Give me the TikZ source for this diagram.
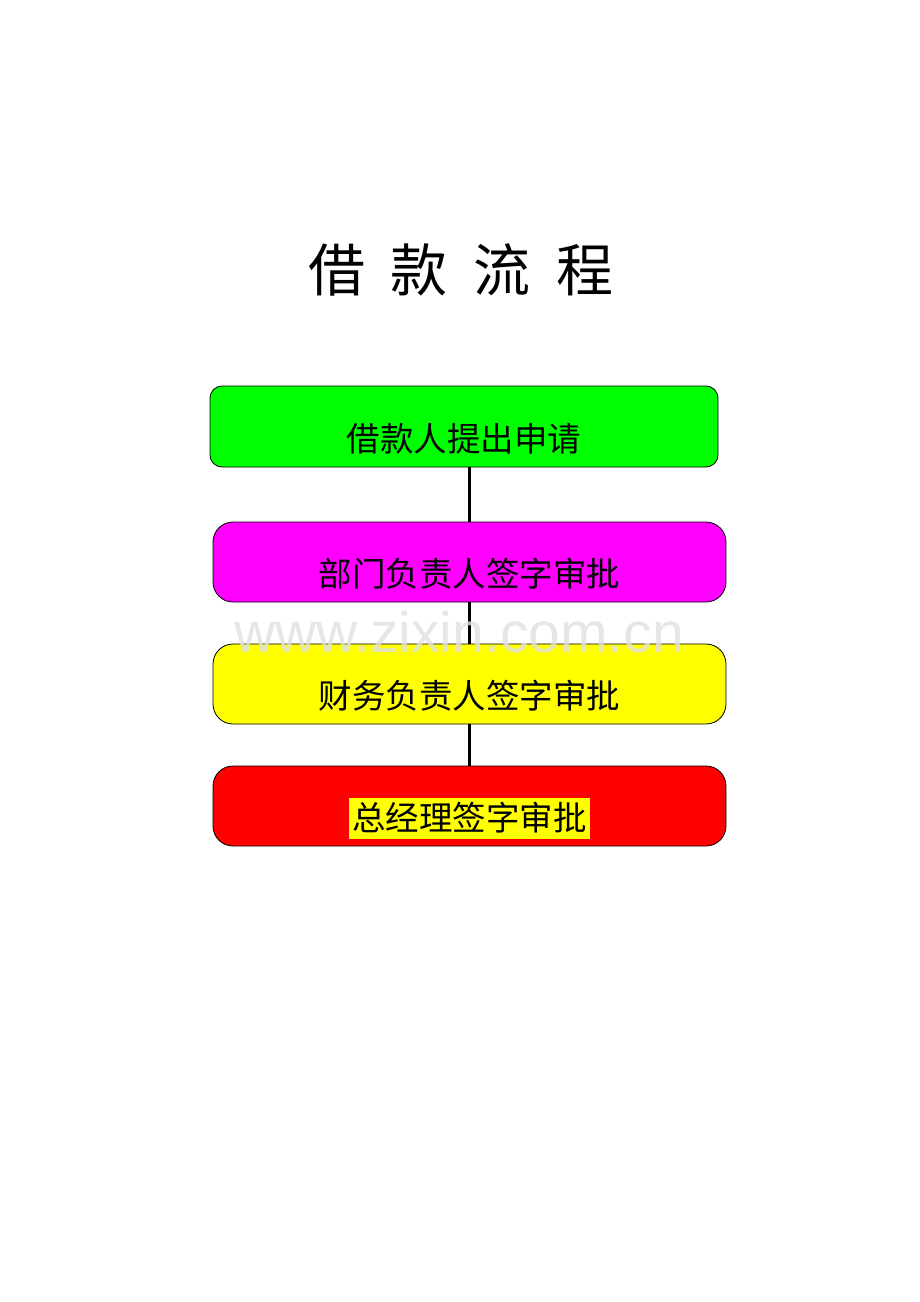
\documentclass[tikz,border=0pt]{standalone}
\usepackage{fontspec}
\usepackage{tikz}
\usetikzlibrary{positioning}
\newfontfamily\cjk{Noto Sans CJK SC}
\newfontfamily\wmark{Liberation Sans}
\definecolor{boxgreen}{RGB}{0,255,0}
\definecolor{boxmagenta}{RGB}{255,0,255}
\definecolor{boxyellow}{RGB}{255,255,0}
\definecolor{boxred}{RGB}{255,0,0}

\begin{document}
\begin{tikzpicture}[x=1pt,y=-1pt,main/.style={draw,line width=0.8pt,outer sep=0pt,minimum width=513pt,minimum height=80pt,rounded corners=20pt},link/.style={draw,line width=2.5pt},txt/.style={font=\cjk\fontsize{33.5}{36}\selectfont,inner sep=0pt},node distance={42pt}]
\useasboundingbox[fill=white] (0,0) rectangle (920,1302);
\node[font=\cjk\fontsize{57}{60}\selectfont] (title) at (461,270) {借\hspace{26pt}款\hspace{26pt}流\hspace{26pt}程};
\node[main,fill=boxgreen,minimum width=508pt,minimum height=81pt,rounded corners=12pt,label={[txt,yshift=-12pt]center:借款人提出申请}] (apply) at (464,426.5) {};
\node[main,fill=boxmagenta,label={[txt,yshift=-12pt]center:部门负责人签字审批}] (dept) [below=55pt of apply,xshift=5.5pt] {};
\node[main,fill=boxyellow,label={[txt,yshift=-12pt]center:财务负责人签字审批}] (fin) [below=42pt of dept] {};
\node[main,fill=boxred,label={[txt,yshift=-12pt,fill=boxyellow,inner xsep=3pt,inner ysep=5pt]center:总经理签字审批}] (gm) [below=42pt of fin] {};
\draw[link] (dept.north) -- (dept.north |- apply.south);
\draw[link] (fin.north) -- (dept.south);
\draw[link] (gm.north) -- (fin.south);
\node[font=\wmark\fontsize{57}{60}\selectfont,text=black!12,opacity=0.8] (mark) at (459,632) {www.zixin.com.cn};
\end{tikzpicture}
\end{document}
